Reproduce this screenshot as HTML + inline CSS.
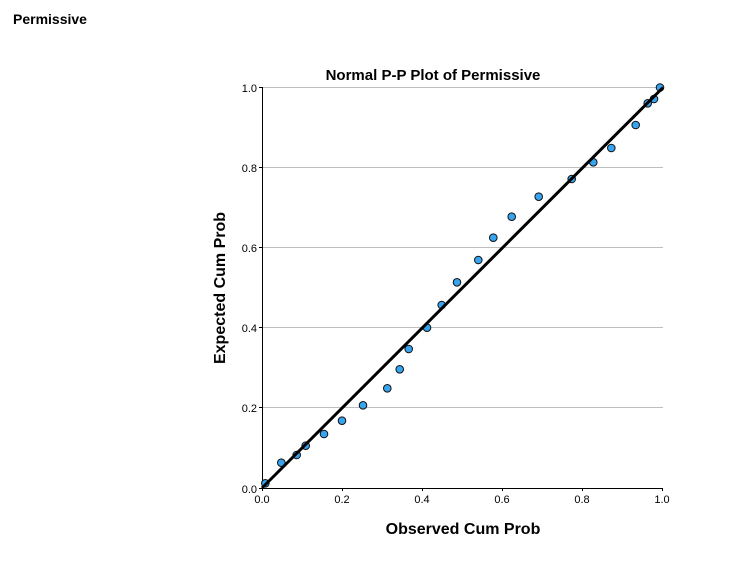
<!DOCTYPE html>
<html><head><meta charset="utf-8"><style>
html,body{margin:0;padding:0;background:#fff;}
svg{display:block;font-family:"Liberation Sans",Arial,sans-serif;}
</style></head><body>
<svg width="755" height="566" viewBox="0 0 755 566" xmlns="http://www.w3.org/2000/svg">
<rect width="755" height="566" fill="#fff"/>
<text x="13" y="24" font-size="14" font-weight="bold" fill="#000">Permissive</text>
<text x="433" y="80" font-size="15" font-weight="bold" text-anchor="middle" fill="#000">Normal P-P Plot of Permissive</text>
<g stroke="#bdbdbd" stroke-width="1">
<line x1="262" y1="87.5" x2="663" y2="87.5"/>
<line x1="262" y1="167.5" x2="663" y2="167.5"/>
<line x1="262" y1="247.5" x2="663" y2="247.5"/>
<line x1="262" y1="327.5" x2="663" y2="327.5"/>
<line x1="262" y1="407.5" x2="663" y2="407.5"/>
</g>
<g stroke="#000" stroke-width="1">
<line x1="262.5" y1="87" x2="262.5" y2="488"/>
<line x1="262" y1="488.5" x2="663" y2="488.5"/>
<line x1="259" y1="87.5" x2="262" y2="87.5"/><line x1="259" y1="167.5" x2="262" y2="167.5"/><line x1="259" y1="247.5" x2="262" y2="247.5"/><line x1="259" y1="327.5" x2="262" y2="327.5"/><line x1="259" y1="407.5" x2="262" y2="407.5"/><line x1="259" y1="488.5" x2="262" y2="488.5"/>
<line x1="262.5" y1="488" x2="262.5" y2="491"/><line x1="342.5" y1="488" x2="342.5" y2="491"/><line x1="422.5" y1="488" x2="422.5" y2="491"/><line x1="502.5" y1="488" x2="502.5" y2="491"/><line x1="582.5" y1="488" x2="582.5" y2="491"/><line x1="662.5" y1="488" x2="662.5" y2="491"/>
</g>
<g font-size="11" fill="#000" text-anchor="end">
<text x="257" y="92">1.0</text><text x="257" y="172">0.8</text><text x="257" y="252">0.6</text><text x="257" y="332">0.4</text><text x="257" y="412">0.2</text><text x="257" y="493">0.0</text>
</g>
<g font-size="11" fill="#000" text-anchor="middle">
<text x="262" y="503">0.0</text><text x="342" y="503">0.2</text><text x="422" y="503">0.4</text><text x="502" y="503">0.6</text><text x="582" y="503">0.8</text><text x="662" y="503">1.0</text>
</g>
<text x="463" y="534" font-size="16" font-weight="bold" text-anchor="middle">Observed Cum Prob</text>
<text transform="translate(225,288) rotate(-90)" font-size="16" font-weight="bold" text-anchor="middle">Expected Cum Prob</text>
<g fill="#36a4ee" stroke="#111" stroke-width="1">
<circle cx="265.3" cy="483.3" r="3.8"/><circle cx="281.3" cy="462.7" r="3.8"/><circle cx="296.7" cy="455" r="3.8"/><circle cx="305.7" cy="445.7" r="3.8"/><circle cx="324" cy="434" r="3.8"/><circle cx="342" cy="420.7" r="3.8"/><circle cx="363" cy="405.3" r="3.8"/><circle cx="387.3" cy="388.3" r="3.8"/><circle cx="399.7" cy="369.3" r="3.8"/><circle cx="408.7" cy="349" r="3.8"/><circle cx="427" cy="327.7" r="3.8"/><circle cx="441.7" cy="305" r="3.8"/><circle cx="457" cy="282.3" r="3.8"/><circle cx="478.3" cy="260" r="3.8"/><circle cx="493.3" cy="237.7" r="3.8"/><circle cx="511.7" cy="216.7" r="3.8"/><circle cx="538.7" cy="196.7" r="3.8"/><circle cx="571.7" cy="179" r="3.8"/><circle cx="593.3" cy="162.3" r="3.8"/><circle cx="611.3" cy="148" r="3.8"/><circle cx="635.7" cy="125" r="3.8"/><circle cx="647.7" cy="103.3" r="3.8"/><circle cx="654" cy="99" r="3.8"/><circle cx="660" cy="87.5" r="3.8"/>
</g>
<line x1="262" y1="488" x2="663" y2="87.5" stroke="#000" stroke-width="3"/>
</svg>
</body></html>
